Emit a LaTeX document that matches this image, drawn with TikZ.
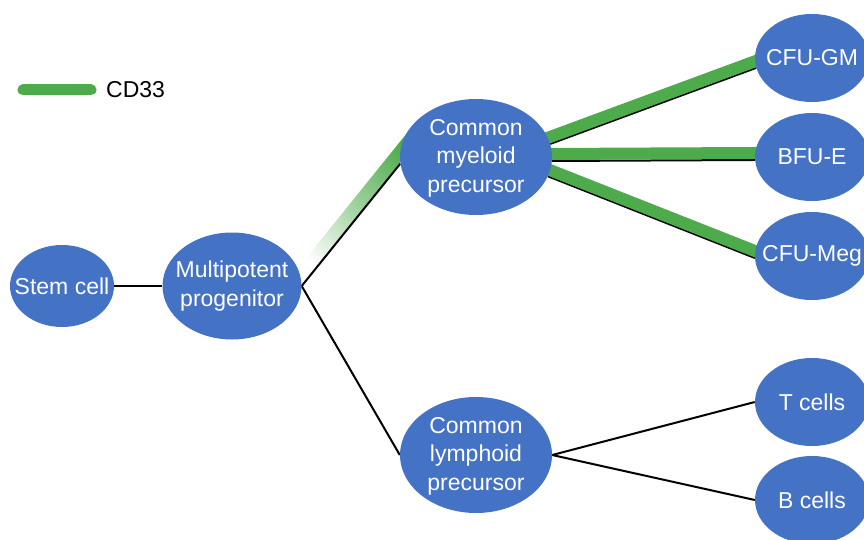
\documentclass[tikz,border=0pt]{standalone}
\usepackage{fontspec}
\setmainfont{Liberation Sans}
\usepackage{xcolor}
\usetikzlibrary{shapes.geometric, backgrounds, calc}

\definecolor{cellblue}{HTML}{4472C4}
\definecolor{cdgreen}{HTML}{4EAB4C}

\tikzset{
    cell/.style={ellipse, fill=cellblue, inner sep=0pt},
    celltext/.style={text=white, align=center, inner sep=0pt,
                     font=\fontsize{23}{28.5}\selectfont},
    bigcell/.style={cell, minimum width=152pt, minimum height=116pt},
    endcell/.style={cell, minimum width=114pt, minimum height=88pt},
    link/.style={black, line width=2pt},
    cdlink/.style={cdgreen, line width=12pt, shorten <=-20pt, shorten >=-20pt,
                   transform canvas={yshift=7pt}}
}

\begin{document}
\begin{tikzpicture}[x=1pt, y=-1pt]
    \path[use as bounding box, clip] (0,0) rectangle (864,540);
    % cells
    \node[cell, minimum width=104pt, minimum height=82pt,
          label={[celltext]center:Stem cell}] (stem) at (62,286) {};
    \node[cell, minimum width=139pt, minimum height=107pt,
          label={[celltext]center:{Multipotent\\progenitor}}] (mpp) at (232,286) {};
    \node[bigcell, label={[celltext, yshift=-1pt]center:{Common\\myeloid\\precursor}}] (cmp) at (476,157) {};
    \node[bigcell, label={[celltext, yshift=-1pt]center:{Common\\lymphoid\\precursor}}] (clp) at (476,455) {};
    \foreach \n/\y/\t in {gm/58/CFU-GM, bfue/157/BFU-E, meg/256/CFU-Meg,
                          tcell/402/T cells, bcell/500/B cells} {
        \node[endcell, label={[celltext]center:\t}] (\n) at (812,\y) {};
    }
    % legend
    \coordinate (keyL) at (23,90);
    \coordinate (keyR) at (91,90);
    \draw[cdgreen, line width=11pt, line cap=round] (keyL) -- (keyR);
    \node[anchor=west, inner sep=0pt, font=\fontsize{23}{28}\selectfont] (keytxt) at (106,90) {CD33};
    \begin{scope}[on background layer]
        \fill[white] (0,0) rectangle (864,540);
        % fading CD33 band
        \coordinate (bandlo) at (mpp.east);
        \coordinate (bandhi) at ($(mpp.east)!1.25!(cmp.185)$);
        \shade[bottom color=white, top color=cdgreen, middle color=cdgreen!55, shading angle=-39]
            ($(bandlo)!1pt!90:(bandhi)$) -- ($(bandlo)!14pt!90:(bandhi)$)
            -- ($(bandhi)!14pt!-90:(bandlo)$) -- ($(bandhi)!1pt!-90:(bandlo)$) -- cycle;
        \draw[link] (stem) -- (mpp);
        \draw[link] (mpp.east) -- (cmp.185);
        \draw[link] (mpp.east) -- (clp.west);
        \foreach \a/\b in {cmp.10/gm.190, cmp.-3/bfue.183, cmp.-15/meg.182} {
            \draw[link] (\a) -- (\b);
            \draw[cdlink] (\a) -- (\b);
        }
        \draw[link] (clp.east) -- (tcell.west);
        \draw[link] (clp.east) -- (bcell.west);
    \end{scope}
\end{tikzpicture}
\end{document}
